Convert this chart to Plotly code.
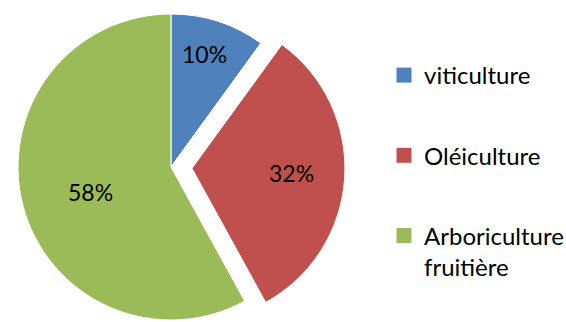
import math
import plotly.graph_objects as go

# ---- data ----
categories = ["viticulture", "Oléiculture", "Arboriculture<br>fruitière"]
values = [10, 32, 58]
colors = ["#4F81BD", "#C0504D", "#9BBB59"]
pulled_index = 1

# ---- style / layout ----
W, H = 566, 322
R = 153.0          # pie radius in px
CX, CY = 171.0, 167.0
PULL_PX = 21.0
LABEL_RFRAC = [0.77, 0.65, 0.55]   # label distance from slice apex (fraction of radius)
LABEL_DANG = [-1.5, -1.0, -3.0]    # small angular nudge of labels (degrees)
FONT = "Lato"
LEG_SIZE = 24
LAB_SIZE = 23

total = sum(values)
pct_text = [f"{v / total * 100:.0f}%" for v in values]

# slice bisector angles (clockwise from 12 o'clock)
mids = []
acc = 0.0
for v in values:
    mids.append((acc + v / 2) / total * 360)
    acc += v

mid = mids[pulled_index]
dx = PULL_PX * math.sin(math.radians(mid))
dy = -PULL_PX * math.cos(math.radians(mid))  # screen y down


def domain(cx, cy):
    return dict(x=[(cx - R) / W, (cx + R) / W],
                y=[max(0.0, 1 - (cy + R) / H), min(1.0, 1 - (cy - R) / H)])


transparent = "rgba(0,0,0,0)"

colA = [c if i != pulled_index else transparent for i, c in enumerate(colors)]
colB = [c if i == pulled_index else transparent for i, c in enumerate(colors)]
lineB = ["white" if i == pulled_index else transparent for i in range(len(values))]

fig = go.Figure()
fig.add_trace(go.Pie(
    labels=categories, values=values, sort=False, direction="clockwise", rotation=0,
    marker=dict(colors=colA, line=dict(color="white", width=1)),
    textinfo="none", domain=domain(CX, CY), showlegend=False, hoverinfo="skip",
))
fig.add_trace(go.Pie(
    labels=categories, values=values, sort=False, direction="clockwise", rotation=0,
    marker=dict(colors=colB, line=dict(color=lineB, width=1)),
    textinfo="none", domain=domain(CX + dx, CY + dy), showlegend=False, hoverinfo="skip",
))

# data labels along each slice bisector
for i, (t, m) in enumerate(zip(pct_text, mids)):
    ox, oy = (dx, dy) if i == pulled_index else (0.0, 0.0)
    r = R * LABEL_RFRAC[i]
    a = math.radians(m + LABEL_DANG[i])
    px = CX + ox + r * math.sin(a)
    py = CY + oy - r * math.cos(a)
    fig.add_annotation(x=px / W, y=1 - py / H, xref="paper", yref="paper",
                       text=t, showarrow=False, xanchor="center", yanchor="middle",
                       font=dict(family=FONT, size=LAB_SIZE, color="black"))

# legend entries
for i, (cat, col) in enumerate(zip(categories, colors)):
    fig.add_trace(go.Scatter(
        x=[None], y=[None], mode="markers", name=cat, legendgroup=f"g{i}",
        marker=dict(symbol="square", size=15, color=col),
    ))

fig.update_layout(
    width=W, height=H,
    margin=dict(l=0, r=0, t=0, b=0, autoexpand=False),
    paper_bgcolor="white", plot_bgcolor="white",
    xaxis=dict(visible=False), yaxis=dict(visible=False),
    legend=dict(x=384 / W, y=1 - 53 / H, xanchor="left", yanchor="top",
                bgcolor="rgba(0,0,0,0)",
                font=dict(family=FONT, size=LEG_SIZE, color="black"),
                valign="top", tracegroupgap=46, itemwidth=30),
    font=dict(family=FONT),
)

fig.write_html("out.html", config={"displayModeBar": False},
               post_script="document.body.style.margin='0px';")
